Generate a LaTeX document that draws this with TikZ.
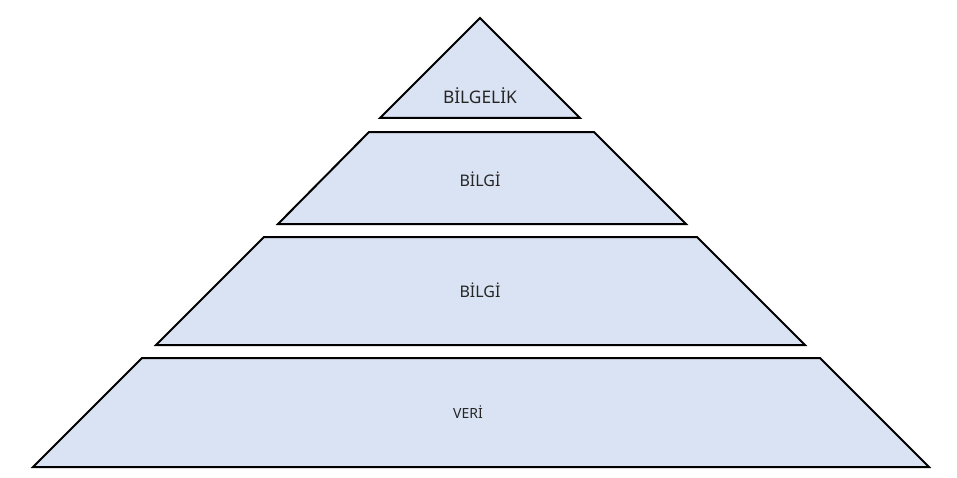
\documentclass[tikz,border=0pt]{standalone}
\usepackage{fontspec}
\setmainfont{Noto Sans}
\definecolor{fillb}{HTML}{DAE3F3}
\begin{document}
\begin{tikzpicture}[x=0.75pt,y=-0.75pt,
  lvl/.style={draw=black,line width=1.5pt,fill=fillb,line join=miter},
  lbl/.style={font=\fontsize{#1}{#1}\selectfont,text=black!85}]
\useasboundingbox (0,0) rectangle (957,478);
\draw[lvl] (480,18) -- (580,118) -- (380,118) -- cycle;
\draw[lvl] (369,132) -- (594,132) -- (686,224) -- (278,224) -- cycle;
\draw[lvl] (264,237) -- (697,237) -- (805,345) -- (156,345) -- cycle;
\draw[lvl] (142,358) -- (820,358) -- (929,467) -- (33,467) -- cycle;
\node[lbl=13] (t1) at (480,96) {BİLGELİK};
\node[lbl=12] (t2) at (480,179) {BİLGİ};
\node[lbl=12] (t3) at (480,290) {BİLGİ};
\node[lbl=10.5] (t4) at (468,412) {VERİ};
\end{tikzpicture}
\end{document}
